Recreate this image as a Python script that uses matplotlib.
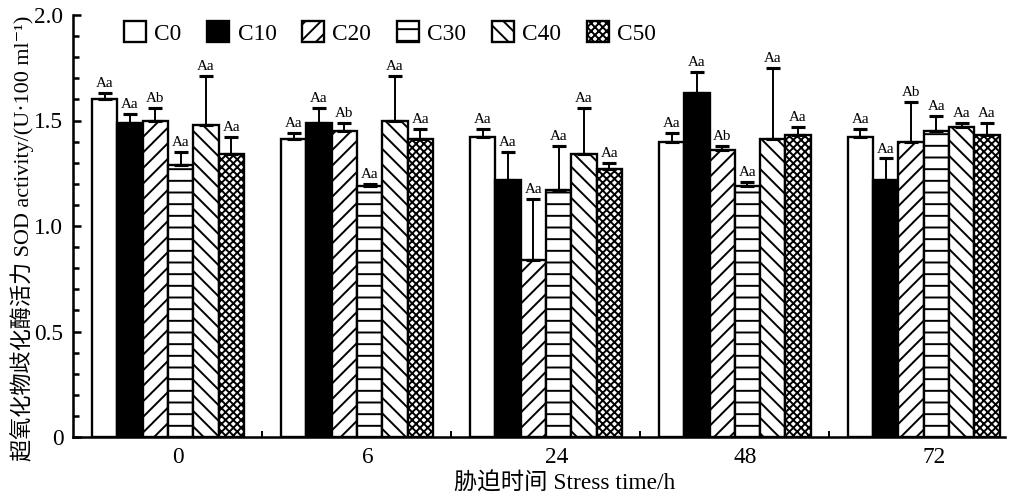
import numpy as np
import matplotlib.pyplot as plt
from matplotlib.ticker import MultipleLocator, FixedLocator

plt.rcParams['font.family'] = ['Liberation Serif', 'Noto Sans CJK SC', 'DejaVu Serif']
plt.rcParams['hatch.linewidth'] = 1.0

# data
times = ['0', '6', '24', '48', '72']
groups = ['C0', 'C10', 'C20', 'C30', 'C40', 'C50']
sod = {
    'C0':  [1.60, 1.41, 1.42, 1.40, 1.42],
    'C10': [1.49, 1.49, 1.22, 1.63, 1.22],
    'C20': [1.50, 1.45, 0.84, 1.36, 1.40],
    'C30': [1.29, 1.19, 1.17, 1.19, 1.45],
    'C40': [1.48, 1.50, 1.34, 1.41, 1.47],
    'C50': [1.34, 1.41, 1.27, 1.43, 1.43],
}
sod_err = {
    'C0':  [0.03, 0.03, 0.04, 0.04, 0.04],
    'C10': [0.04, 0.07, 0.13, 0.10, 0.10],
    'C20': [0.06, 0.04, 0.29, 0.02, 0.19],
    'C30': [0.06, 0.01, 0.21, 0.02, 0.07],
    'C40': [0.23, 0.21, 0.22, 0.34, 0.02],
    'C50': [0.08, 0.05, 0.03, 0.04, 0.06],
}
letters = {
    'C0':  ['Aa', 'Aa', 'Aa', 'Aa', 'Aa'],
    'C10': ['Aa', 'Aa', 'Aa', 'Aa', 'Aa'],
    'C20': ['Ab', 'Ab', 'Aa', 'Ab', 'Ab'],
    'C30': ['Aa', 'Aa', 'Aa', 'Aa', 'Aa'],
    'C40': ['Aa', 'Aa', 'Aa', 'Aa', 'Aa'],
    'C50': ['Aa', 'Aa', 'Aa', 'Aa', 'Aa'],
}

styles = {
    'C0':  dict(facecolor='white', hatch=None),
    'C10': dict(facecolor='black', hatch=None),
    'C20': dict(facecolor='white', hatch='///'),
    'C30': dict(facecolor='white', hatch='--'),
    'C40': dict(facecolor='white', hatch='\\\\\\'),
    'C50': dict(facecolor='white', hatch='xxxxxx'),
}

fig = plt.figure(figsize=(1011 / 140, 494 / 140), dpi=140)
ax = fig.add_axes([73 / 1011, 57 / 494, 932 / 1011, 422 / 494])

x = np.arange(len(times))
width = 0.134
handles = []
for k, g in enumerate(groups):
    pos = x + (k - 2.5) * width
    vals = np.array(sod[g])
    err = np.array(sod_err[g])
    b = ax.bar(pos, vals, width, edgecolor='black', linewidth=1.2,
               label=g, zorder=2, **styles[g])
    ax.errorbar(pos, vals, yerr=[np.zeros_like(err), err], fmt='none',
                ecolor='black', elinewidth=1.0, capsize=3.6, capthick=1.6, zorder=3)
    for p, v, e, t in zip(pos, vals, err, letters[g]):
        ax.annotate(t, (p, v + e), xytext=(0, 1.5), textcoords='offset points',
                    ha='center', va='bottom', fontsize=7.8)
    handles.append(b)

ax.set_xlim(-0.503, 4.43)
ax.set_ylim(0, 2.0)

ax.spines['top'].set_visible(False)
ax.spines['right'].set_visible(False)
ax.spines['left'].set_linewidth(1.3)
ax.spines['bottom'].set_linewidth(1.3)

ax.set_xticks(x + 0.055)
ax.set_xticklabels(times, fontsize=12)
ax.xaxis.set_minor_locator(FixedLocator(x[:-1] + 0.5))
ax.tick_params(axis='x', which='major', length=0, pad=5)
ax.tick_params(axis='x', which='minor', direction='in', length=3, width=1.0)

ax.set_yticks([0, 0.5, 1.0, 1.5, 2.0])
ax.set_yticklabels(['0', '0.5', '1.0', '1.5', '2.0'], fontsize=12)
ax.yaxis.set_minor_locator(MultipleLocator(0.1))
ax.tick_params(axis='y', which='major', direction='in', length=4, width=1.3, pad=5)
ax.tick_params(axis='y', which='minor', direction='in', length=3, width=1.3)

ax.set_xlabel('胁迫时间 Stress time/h', fontsize=12, labelpad=2)
ax.xaxis.set_label_coords(0.527, -0.085)
ax.set_ylabel('超氧化物歧化酶活力 SOD activity/(U·100 ml⁻¹)', fontsize=11.4)
ax.yaxis.set_label_coords(-0.042, 0.47)

fig.legend(handles=handles, labels=groups, loc='center left',
           bbox_to_anchor=(124 / 1011, 1 - 33 / 494), ncol=6, frameon=False,
           fontsize=12, handlelength=0.95, handleheight=0.95,
           handletextpad=0.35, columnspacing=1.1, borderpad=0, borderaxespad=0)

fig.savefig('out.png', dpi=140)
